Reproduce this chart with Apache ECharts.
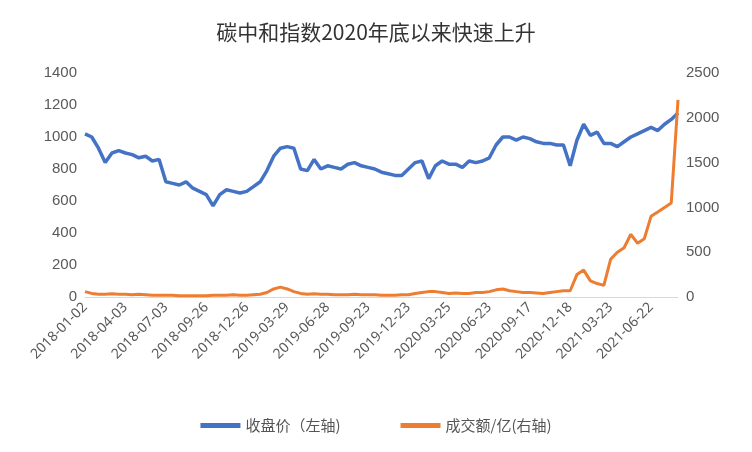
<!DOCTYPE html><html><head><meta charset="utf-8"><script src="https://cdn.jsdelivr.net/npm/echarts@6/dist/echarts.min.js"></script></head><body style="margin:0"><div id="c" style="width:752px;height:452px"></div><script>
const dates=["2018-01-02","2018-01-16","2018-01-30","2018-02-13","2018-03-06","2018-03-20",
"2018-04-03","2018-04-18","2018-05-03","2018-05-17","2018-05-31","2018-06-14",
"2018-07-03","2018-07-17","2018-07-31","2018-08-14","2018-08-28","2018-09-11",
"2018-09-26","2018-10-17","2018-10-31","2018-11-14","2018-11-28","2018-12-12",
"2018-12-26","2019-01-10","2019-01-24","2019-02-14","2019-02-28","2019-03-14",
"2019-03-29","2019-04-15","2019-04-29","2019-05-16","2019-05-30","2019-06-14",
"2019-06-28","2019-07-12","2019-07-26","2019-08-09","2019-08-23","2019-09-06",
"2019-09-23","2019-10-14","2019-10-28","2019-11-11","2019-11-25","2019-12-09",
"2019-12-23","2020-01-07","2020-01-21","2020-02-11","2020-02-25","2020-03-10",
"2020-03-25","2020-04-09","2020-04-23","2020-05-12","2020-05-26","2020-06-09",
"2020-06-23","2020-07-09","2020-07-23","2020-08-06","2020-08-20","2020-09-03",
"2020-09-17","2020-10-09","2020-10-23","2020-11-06","2020-11-20","2020-12-04",
"2020-12-18","2021-01-05","2021-01-19","2021-02-02","2021-02-23","2021-03-09",
"2021-03-23","2021-04-07","2021-04-21","2021-05-10","2021-05-24","2021-06-07",
"2021-06-22","2021-07-06","2021-07-20","2021-08-03","2021-08-17"];
const closeIdx=[1020,1000,930,840,900,915,
900,890,870,880,850,860,
720,710,700,720,680,660,
640,570,640,670,660,650,
660,690,720,790,880,930,
940,930,800,790,860,800,
820,810,800,830,840,820,
810,800,780,770,760,760,
800,840,850,740,820,850,
830,830,810,850,840,850,
870,950,1000,1000,980,1000,
990,970,960,960,950,950,
820,980,1080,1010,1030,960,
960,940,970,1000,1020,1040,
1060,1040,1080,1110,1150];
const volume=[60,40,30,30,35,30,
30,25,30,25,20,20,
20,20,15,15,15,15,
15,20,20,20,25,20,
20,25,30,50,90,110,
90,60,40,30,35,30,
30,25,25,25,30,25,
25,25,20,20,20,25,
25,40,50,60,60,50,
40,45,40,40,50,50,
60,80,90,70,60,50,
50,45,40,50,60,70,
70,250,300,180,150,130,
420,500,550,700,600,650,
900,950,1000,1050,2200];
const fmt=v=>String(v);
echarts.init(document.getElementById('c')).setOption({
animation:false,backgroundColor:'#fff',
title:{text:'碳中和指数2020年底以来快速上升',left:'center',top:17,textStyle:{fontSize:21,fontWeight:'normal',color:'#333',fontFamily:'Noto Sans CJK SC'}},
legend:{bottom:14,itemWidth:40,itemGap:60,icon:'rect',itemHeight:5,textStyle:{fontSize:15,color:'#555',fontFamily:'Noto Sans CJK SC'}},
grid:{left:85,right:74,top:73,bottom:155},
xAxis:{type:'category',data:dates,boundaryGap:false,axisTick:{show:false},axisLine:{lineStyle:{color:'#d9d9d9'}},
axisLabel:{interval:5,rotate:45,fontSize:14,color:'#595959',fontFamily:'Noto Sans'}},
yAxis:[{type:'value',min:0,max:1400,interval:200,axisLabel:{formatter:fmt,fontSize:15,color:'#595959'},splitLine:{show:false},axisLine:{show:false}},
{type:'value',min:0,max:2500,interval:500,axisLabel:{formatter:fmt,fontSize:15,color:'#595959'},splitLine:{show:false},axisLine:{show:false}}],
series:[{name:'收盘价（左轴)',type:'line',data:closeIdx,showSymbol:false,lineStyle:{width:3.5,color:'#4472C4'},itemStyle:{color:'#4472C4'}},
{name:'成交额/亿(右轴)',type:'line',yAxisIndex:1,data:volume,showSymbol:false,lineStyle:{width:3,color:'#ED7D31'},itemStyle:{color:'#ED7D31'}}]
});
</script></body></html>
